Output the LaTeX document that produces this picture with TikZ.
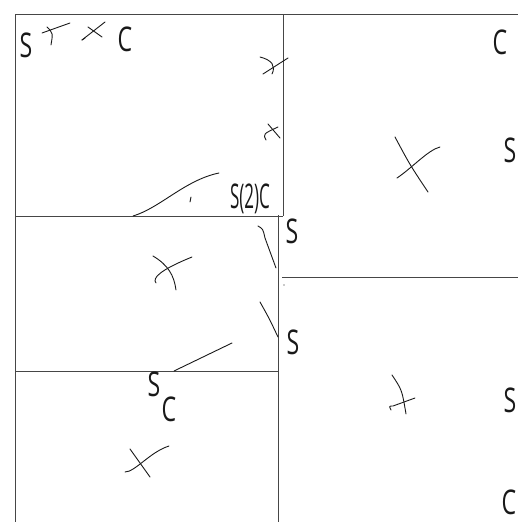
\documentclass[tikz,border=0pt]{standalone}
\usepackage{fontspec}
\setmainfont{Open Sans}
\definecolor{frameGrey}{RGB}{70,70,70}
\definecolor{penBlack}{RGB}{25,25,25}
\newcommand{\Hand}[1]{\scalebox{0.68}[1]{#1}}
\tikzset{
  frame/.style={draw=frameGrey,line width=1pt},
  pen/.style={draw=penBlack,line width=0.9pt,line cap=round},
  scribble/.style={inner sep=0pt,text=penBlack,font=\fontsize{34}{34}\selectfont},
}
\begin{document}
\begin{tikzpicture}[x=1pt,y=-1pt]
\useasboundingbox (0,0) rectangle (518,522);
% boxes
\draw[frame] (15,522) -- (15,14) -- (518,14);
\draw[frame] (283,14) -- (283,216);
\draw[frame] (15,216) -- (283,216);
\draw[frame] (278,215) -- (278,522);
\draw[frame] (15,371) -- (278,371);
\draw[frame] (282,277) -- (518,277);
% letters
\node[scribble] (sTop) at (26,45) {\Hand{S}};
\node[scribble] (cTop) at (125,39) {\Hand{C}};
\node[scribble] (sTwoC) at (250,199) {\scalebox{0.5}[1]{S(2)C}};
\node[scribble] (sMidA) at (292,231) {\Hand{S}};
\node[scribble] (sMidB) at (293,342) {\Hand{S}};
\node[scribble] (sLow) at (154,384) {\Hand{S}};
\node[scribble] (cLow) at (169,409) {\Hand{C}};
\node[scribble] (cRight) at (500,42) {\Hand{C}};
\node[scribble] (sRightA) at (510,150) {\Hand{S}};
\node[scribble] (sRightB) at (510,400) {\Hand{S}};
\node[scribble] (cRightB) at (509,502) {\Hand{C}};
% crosses and strokes
\draw[pen] (42,33) -- (70,23);
\draw[pen] (47,27) .. controls (53,33) .. (51,45);
\draw[pen] (82,40) -- (105,22);
\draw[pen] (82,40) -- (85,38);
\draw[pen] (88,27) -- (102,37);
\draw[pen] (260,57) .. controls (272,60) and (276,66) .. (272,74);
\draw[pen] (263,74) -- (288,58);
\draw[pen] (268,124) -- (280,138);
\draw[pen] (266,140) .. controls (263,134) .. (278,127);
\draw[pen] (133,216) .. controls (160,208) and (185,180) .. (219,173);
\draw[pen] (191,197) -- (190,202);
\draw[pen] (258,226) .. controls (263,229) .. (265,238) -- (276,268);
\fill[penBlack] (284,285) circle (0.7);
\draw[pen] (260,302) .. controls (269,318) .. (278,337);
\draw[pen] (153,256) .. controls (168,265) and (174,275) .. (176,290);
\draw[pen] (156,283) .. controls (152,278) and (160,270) .. (192,257);
\draw[pen] (174,371) -- (232,343);
\draw[pen] (125,472) .. controls (135,472) and (150,452) .. (169,446);
\draw[pen] (130,449) -- (150,477);
\draw[pen] (395,137) .. controls (410,165) .. (428,192);
\draw[pen] (397,178) .. controls (412,168) and (428,150) .. (440,147);
\draw[pen] (392,375) .. controls (402,390) .. (406,414);
\draw[pen] (391,410) .. controls (389,406) .. (393,406) -- (415,398);
\end{tikzpicture}
\end{document}
